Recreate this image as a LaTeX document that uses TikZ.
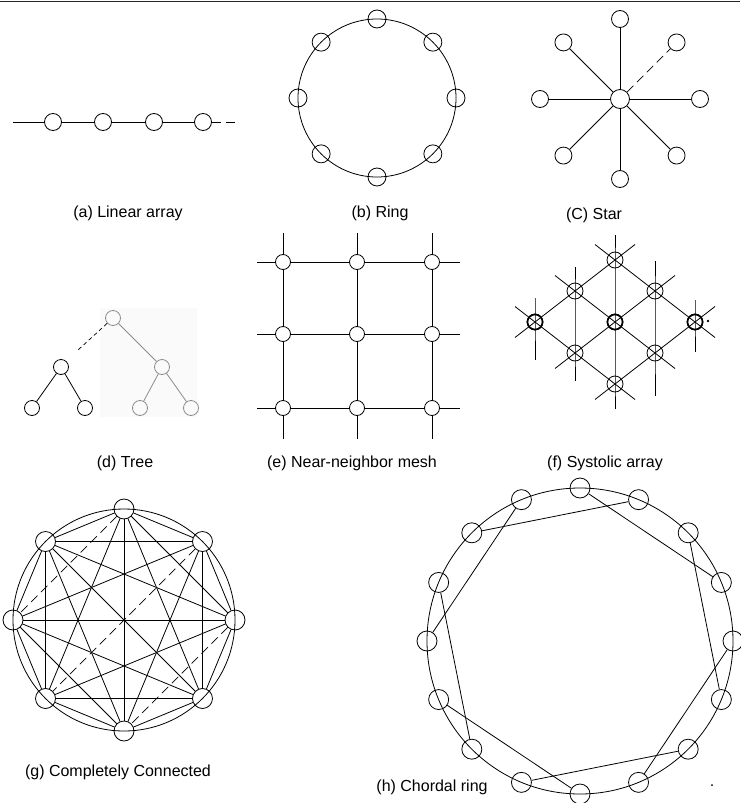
\documentclass[tikz,border=0pt]{standalone}
\usepackage{fontspec}
\setmainfont{Liberation Sans}
\usetikzlibrary{positioning}
\usetikzlibrary{calc}

\tikzset{
  pe/.style={circle, draw, line width=0.8pt, inner sep=0pt, minimum size=#1},
  pe/.default=16pt,
  link/.style={line width=0.8pt},
  faint/.style={line width=0.7pt, dash pattern=on 9pt off 5pt},
  caption/.style={font=\fontsize{16}{19}\selectfont, inner sep=0pt},
}

\begin{document}
\begin{tikzpicture}[x=1pt, y=-1pt]

\useasboundingbox (0,0) rectangle (740,803);

% rule at the top of the page
\draw[line width=1.8pt, black!85] (0,1.5) -- (740,1.5);

%====================================================
% (a) Linear array
%====================================================
\foreach \i/\x in {1/53,2/103,3/154,4/203}
  \node[pe=17pt] (la\i) at (\x,122) {};
\coordinate (laW) at (13,122);
\coordinate (laE) at (237,122);
\draw[link] (laW) -- (la1) -- (la2) -- (la3) -- (la4);
\draw[faint] (la4) -- (laE);

%====================================================
% (b) Ring
%====================================================
\begin{scope}[shift={(377,98)}]
  \draw[link] (0,0) circle[radius=79pt];
  \foreach \k in {0,...,7}
    \node[pe=18pt] (rg\k) at ({79*sin(45*\k)},{-79*cos(45*\k)}) {};
\end{scope}

%====================================================
% (c) Star
%====================================================
\begin{scope}[shift={(620,99)}]
  \node[pe=19pt] (st) at (0,0) {};
  \foreach \k in {0,...,7}
    \node[pe=17pt] (st\k) at ({80*sin(45*\k)},{-80*cos(45*\k)}) {};
  \foreach \k in {0,2,3,4,5,6,7}
    \draw[link] (st) -- (st\k);
  \draw[faint] (st) -- (st1);
\end{scope}

%====================================================
% (d) Tree
%====================================================
\fill[black!2] (100,308) rectangle (197,417);
\node[pe=15pt, draw=black!45] (tr0)  at (113,318) {};
\node[pe=15pt]                (trL)  at (61,367)  {};
\node[pe=15pt, draw=black!45] (trR)  at (162,367) {};
\node[pe=15pt]                (trLL) at (32,408)  {};
\node[pe=15pt]                (trLR) at (85,408)  {};
\node[pe=15pt, draw=black!45] (trRL) at (140,408) {};
\node[pe=15pt, draw=black!45] (trRR) at (191,408) {};
\coordinate (trCut) at (78,350);

\draw[link] (trL) -- (trLL);
\draw[link] (trL) -- (trLR);
\draw[link, black!45] (tr0) -- (trR);
\draw[link, black!45] (trR) -- (trRL);
\draw[link, black!45] (trR) -- (trRR);
\draw[line width=0.7pt, dash pattern=on 4pt off 3pt] (tr0) -- (trCut);

%====================================================
% (e) Near-neighbor mesh
%====================================================
\foreach \r/\y in {1/262,2/334,3/408}
  \foreach \c/\x in {1/283,2/357,3/432}
    \node[pe=15pt] (m\r\c) at (\x,\y) {};

% rows
\foreach \r/\y in {1/262,2/334,3/408} {
  \coordinate (mW\r) at (257,\y);
  \coordinate (mE\r) at (460,\y);
  \draw[link] (mW\r) -- (m\r1) -- (m\r2) -- (m\r3) -- (mE\r);
}
% columns
\foreach \c/\x in {1/283,2/357,3/432} {
  \coordinate (mN\c) at (\x,233);
  \coordinate (mS\c) at (\x,439);
  \draw[link] (mN\c) -- (m1\c) -- (m2\c) -- (m3\c) -- (mS\c);
}

%====================================================
% (f) Systolic array
%====================================================
\def\syX{615}
\def\syY{260}
\foreach \i in {0,1,2}
  \foreach \j in {0,1,2}
    \node[pe=16pt] (sy\i\j) at ({\syX-40*\i+40*\j},{\syY+31*\i+31*\j}) {};
% bold middle row
\foreach \n in {sy20,sy11,sy02}
  \draw[line width=1.6pt] (\n) circle[radius=7.5pt];

% lines running down to the right
\foreach \i in {0,1,2} {
  \coordinate (syA\i) at ({\syX-40*\i-20},{\syY+31*\i-15.5});
  \coordinate (syB\i) at ({\syX-40*\i+100},{\syY+31*\i+77.5});
  \draw[link] (syA\i) -- (sy\i0.center) -- (sy\i1.center) -- (sy\i2.center) -- (syB\i);
}
% lines running down to the left
\foreach \j in {0,1,2} {
  \coordinate (syC\j) at ({\syX+40*\j+20},{\syY+31*\j-15.5});
  \coordinate (syD\j) at ({\syX+40*\j-100},{\syY+31*\j+77.5});
  \draw[link] (syC\j) -- (sy0\j.center) -- (sy1\j.center) -- (sy2\j.center) -- (syD\j);
}
% vertical lines
\coordinate (syV1a) at (535,298); \coordinate (syV1b) at (535,360);
\coordinate (syV2a) at (575,267); \coordinate (syV2b) at (575,381);
\coordinate (syV3a) at (615,235); \coordinate (syV3b) at (615,409);
\coordinate (syV4a) at (655,261); \coordinate (syV4b) at (655,396);
\coordinate (syV5a) at (695,300); \coordinate (syV5b) at (695,352);
\draw[link] (syV1a) -- (sy20.center) -- (syV1b);
\draw[link] (syV2a) -- (sy10.center) -- (sy21.center) -- (syV2b);
\draw[link] (syV3a) -- (sy00.center) -- (sy11.center) -- (sy22.center) -- (syV3b);
\draw[link] (syV4a) -- (sy01.center) -- (sy12.center) -- (syV4b);
\draw[link] (syV5a) -- (sy02.center) -- (syV5b);
\fill (708,321) circle[radius=1.4pt];

%====================================================
% (g) Completely connected
%====================================================
\begin{scope}[shift={(124,620)}]
  \draw[link] (0,0) circle[radius=111pt];
  \foreach \k in {0,...,7}
    \node[pe=20pt] (cc\k) at ({111*sin(45*\k)},{-111*cos(45*\k)}) {};
  \foreach \a in {0,...,6} {
    \pgfmathtruncatemacro\an{\a+1}
    \foreach \b in {\an,...,7} {
      \pgfmathtruncatemacro\fnt{((\a==0)&&(\b==6)) || ((\a==2)&&(\b==4)) || ((\a==1)&&(\b==5))}
      \ifnum\fnt=1
        \draw[faint] (cc\a) -- (cc\b);
      \else
        \draw[link] (cc\a) -- (cc\b);
      \fi
    }
  }
\end{scope}

%====================================================
% (h) Chordal ring
%====================================================
\begin{scope}[shift={(580,641)}]
  \draw[link] (0,0) circle[radius=153pt];
  \foreach \k in {0,...,15}
    \node[pe=20pt] (ch\k) at ({153*sin(22.5*\k)},{-153*cos(22.5*\k)}) {};
  \foreach \k in {0,2,...,14} {
    \pgfmathtruncatemacro\m{mod(\k+3,16)}
    \draw[link] (ch\k) -- (ch\m);
  }
\end{scope}
\fill (712,785) circle[radius=1pt];

%---------------------------------------
% Captions
%---------------------------------------
\node[caption] (capA) at (128,213) {(a) Linear array};
\node[caption] (capB) at (380,213) {(b) Ring};
\node[caption] (capC) at (594,215) {(C) Star};
\node[caption] (capD) at (125,463) {(d) Tree};
\node[caption] (capE) at (352,463) {(e) Near-neighbor mesh};
\node[caption] (capF) at (605,463) {(f) Systolic array};
\node[caption] (capG) at (118,772) {(g) Completely Connected};
\node[caption] (capH) at (432,787) {(h) Chordal ring};

\end{tikzpicture}
\end{document}
